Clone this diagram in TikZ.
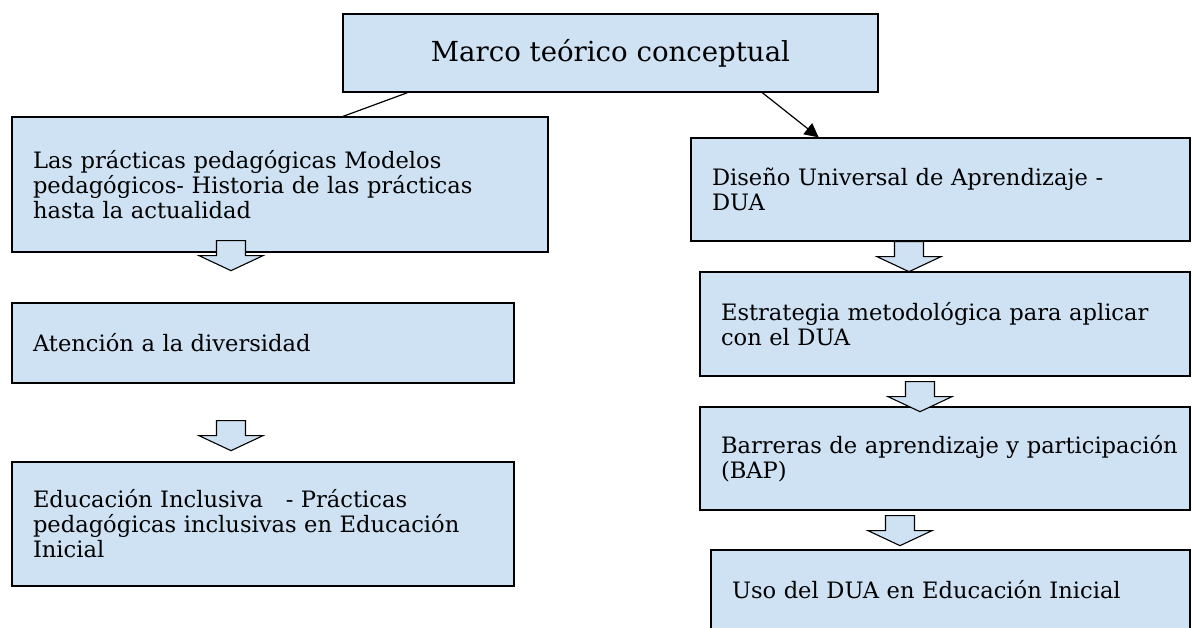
\documentclass[tikz,border=0pt]{standalone}
\usepackage{fontspec}
\setmainfont{DejaVu Serif}
\usepackage{xcolor}
\usepackage{tikz}
\usetikzlibrary{calc,arrows.meta}

\definecolor{cajaazul}{RGB}{207,226,243}

\begin{document}
\begin{tikzpicture}[x=1pt,y=-1pt,
  caja/.style={draw=black, line width=1.3pt, fill=cajaazul, rectangle,
    inner xsep=21pt, align=left, font=\fontsize{22.6}{25}\selectfont},
  flecha/.style={draw=black, line width=1.1pt, fill=cajaazul, line join=miter},
  pics/bajada/.style={code={
    \draw[flecha] (-14.5,0)--(14.5,0)--(14.5,15)--(32,15)--(0,30)--(-32,15)--(-14.5,15)--cycle;}}]
\clip (0,0) rectangle (1192,627);
\fill[white] (0,0) rectangle (1192,627);

\node[caja, minimum width=535pt, minimum height=78pt, align=center,
  font=\fontsize{27.6}{32}\selectfont] (marco) at (610.5,53) {Marco teórico conceptual};

% rama izquierda
\node[caja, minimum width=536pt, minimum height=135pt, text width=494pt] (izq1) at (280,184.5)
  {Las prácticas pedagógicas Modelos\\pedagógicos- Historia de las prácticas\\hasta la actualidad};
\node[caja, minimum width=502pt, minimum height=80pt, text width=460pt] (izq2) at (263,343)
  {Atención a la diversidad};
\node[caja, minimum width=502pt, minimum height=124pt, text width=460pt] (izq3) at (263,524)
  {Educación Inclusiva\ \ \ - Prácticas\\pedagógicas inclusivas en Educación\\Inicial};

% rama derecha
\node[caja, minimum width=499pt, minimum height=103pt, text width=457pt] (der1) at (940.5,189.5)
  {Diseño Universal de Aprendizaje -\\DUA};
\node[caja, minimum width=490pt, minimum height=104pt, text width=448pt] (der2) at (945,324)
  {Estrategia metodológica para aplicar\\con el DUA};
\node[caja, minimum width=490pt, minimum height=103pt, text width=448pt] (der3) at (945,458.5)
  {\mbox{Barreras de aprendizaje y participación}\\(BAP)};
\node[caja, minimum width=479pt, minimum height=80pt, text width=437pt] (der4) at (950.5,590)
  {Uso del DUA en Educación Inicial};

\draw[line width=1.2pt] ($(marco.south west)!0.1215!(marco.south east)$)
  -- ($(izq1.north west)!0.6175!(izq1.north east)$);
\draw[line width=1.2pt, -{Triangle[length=14pt,width=14pt]}]
  ($(marco.south west)!0.783!(marco.south east)$)
  -- ($(der1.north west)!0.2565!(der1.north east)$);

\pic at ($(izq1.south)+(-49,-12)$) {bajada};
\pic at ($(izq2.south)+(-32,37)$) {bajada};
\pic at ($(der1.south)+(-31.5,0)$) {bajada};
\pic at ($(der2.south)+(-25,5)$) {bajada};
\pic at ($(der3.south)+(-45,5)$) {bajada};

\end{tikzpicture}
\end{document}
